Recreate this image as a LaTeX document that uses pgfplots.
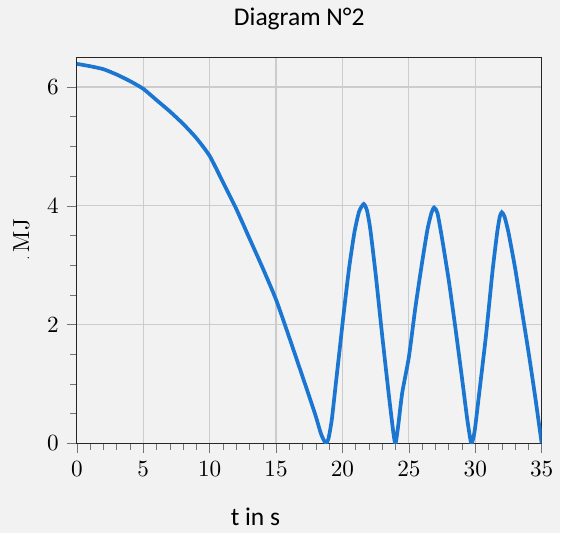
\documentclass[border=0pt]{standalone}
\usepackage{pgfplots}
\pgfplotsset{compat=1.18}
\usepackage{fontspec}
\newfontfamily\carlito{Carlito}
\usetikzlibrary{backgrounds}
\definecolor{bg}{RGB}{242,242,242}
\definecolor{curve}{RGB}{27,118,210}
\definecolor{gridc}{RGB}{204,204,204}

\begin{document}
\begin{tikzpicture}
\begin{axis}[name=ax, at={(0,0)}, anchor=south west,
  scale only axis, width=200.4pt, height=166.4pt,
  xmin=0, xmax=35, ymin=0, ymax=6.5,
  xtick={0,5,...,35}, ytick={0,2,4,6},
  minor x tick num=4, minor y tick num=3,
  xtick pos=bottom, ytick pos=left,
  tick align=outside,
  grid=major, major grid style={gridc, line width=0.5pt},
  axis line style={black!85},
  tick style={black!55},
]
\addplot[curve, line width=1.6pt, smooth, tension=0.35] coordinates {
  (0,6.39) (1,6.35) (2,6.30) (3,6.21) (4,6.10) (5,5.97) (6,5.78) (7,5.59)
  (8,5.38) (9,5.14) (10,4.84) (11,4.40) (12,3.95) (13,3.45) (14,2.95)
  (15,2.42) (16,1.78) (17,1.12) (17.5,0.79) (18,0.45) (18.4,0.15) (18.75,0.0)
  (18.95,0.08) (19.2,0.4) (19.5,1.0) (19.8,1.6) (20.1,2.2) (20.5,2.95)
  (20.9,3.55) (21.25,3.9) (21.6,4.03) (21.85,3.92) (22.1,3.6) (22.5,2.85)
  (23,1.8) (23.5,0.8) (23.85,0.15) (24.0,0.0) (24.2,0.3) (24.5,0.85)
  (25,1.45) (25.5,2.3) (26,3.05) (26.4,3.6) (26.7,3.88) (26.9,3.97)
  (27.15,3.88) (27.5,3.45) (28,2.75) (28.5,1.95) (29,1.1) (29.4,0.4)
  (29.7,0.0) (29.95,0.2) (30.3,0.85) (30.8,1.8) (31.3,2.9) (31.65,3.55)
  (31.85,3.82) (32.0,3.89) (32.2,3.82) (32.5,3.55) (33,2.95) (33.5,2.25)
  (34,1.55) (34.5,0.8) (35,0)
};
\end{axis}
\begin{scope}[on background layer]
\fill[bg] (-33.11pt,-38.7pt) rectangle (208.12pt,190.92pt);
\end{scope}
\node[anchor=base, font=\carlito\fontsize{11}{13}\selectfont] at (95.9pt,180.2pt) {Diagram N°2};
\node[anchor=base, font=\carlito\fontsize{11}{13}\selectfont] at (77.0pt,-35.3pt) {t in s};
\node[anchor=base, rotate=90] at (-20.6pt,87.7pt) {{\tiny.}\,MJ};
\end{tikzpicture}
\end{document}
